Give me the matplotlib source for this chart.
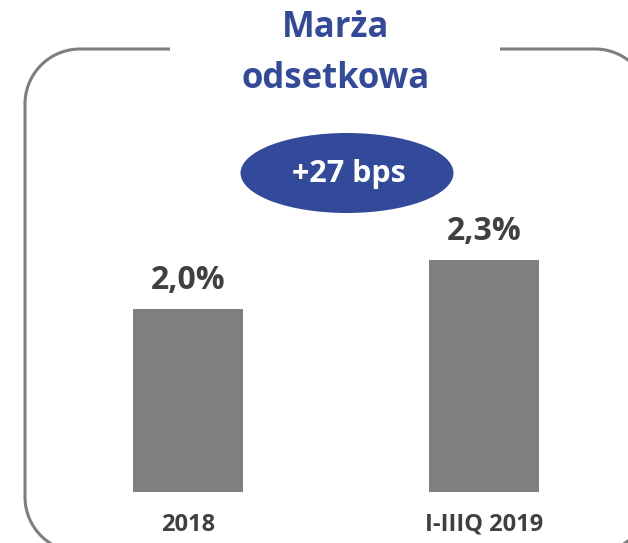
import matplotlib
matplotlib.use("Agg")
import matplotlib.pyplot as plt
import numpy as np
from matplotlib.patches import Ellipse

plt.rcParams['font.family'] = ['Open Sans', 'DejaVu Sans']

# dane
categories = ['2018', 'I-IIIQ 2019']
values = [2.03, 2.30]
value_labels = ['2,0%', '2,3%']
title_lines = ['Marża', 'odsetkowa']
badge = '+27 bps'

blue = '#334A9A'
grey = '#7F7F7F'
dark = '#404040'

W, H = 628, 543
fig = plt.figure(figsize=(W / 100, H / 100), dpi=100)

# tlo: ramka, tytul, owal (wspolrzedne w pikselach)
bg = fig.add_axes([0, 0, 1, 1])
bg.set_xlim(0, W)
bg.set_ylim(H, 0)
bg.axis('off')

# ramka z zaokraglonymi rogami i przerwa na tytul
x0, x1, y0, y1, r = 25, 650, 49, 552, 55
t = np.linspace(0, np.pi / 2, 30)
fx = np.concatenate([[170], x0 + r - r * np.sin(t),
                     x0 + r - r * np.cos(t),
                     x1 - r + r * np.sin(t),
                     x1 - r + r * np.cos(t), [500]])
fy = np.concatenate([[y0], y0 + r - r * np.cos(t),
                     y1 - r + r * np.sin(t),
                     y1 - r + r * np.cos(t),
                     y0 + r - r * np.sin(t), [y0]])
bg.plot(fx, fy, color=grey, linewidth=2.2, solid_capstyle='butt')

bg.text(336, 37, title_lines[0], ha='center', va='baseline', fontsize=25,
        fontweight='bold', color=blue, zorder=4)
bg.text(336, 88, title_lines[1], ha='center', va='baseline', fontsize=25,
        fontweight='bold', color=blue, zorder=4)

bg.add_patch(Ellipse((347, 173), 213, 80, facecolor=blue, edgecolor='none', zorder=4))
bg.text(349, 174, badge, ha='center', va='center', fontsize=22,
        fontweight='bold', color='white', zorder=5)

# slupki
ax = fig.add_axes([0, (H - 492) / H, 1, 392 / H])
ax.patch.set_alpha(0)
x = range(len(categories))
ax.bar(x, values, width=110 / 296, bottom=0, color=grey)
ax.set_xlim(-188 / 296, (W - 188) / 296)
ax.set_ylim(1.02, 1.02 + 392 / 181.5)

for i, (v, lab) in enumerate(zip(values, value_labels)):
    ax.annotate(lab, (i, v), xytext=(0, 14), textcoords='offset points',
                ha='center', va='baseline', fontsize=23, fontweight='bold', color=dark)

ax.set_xticks(list(x))
ax.set_xticklabels(categories, fontsize=17, fontweight='bold', color=dark)
ax.tick_params(axis='x', length=0, pad=15)
ax.set_yticks([])
for s in ax.spines.values():
    s.set_visible(False)

fig.savefig('out.png', dpi=100)
